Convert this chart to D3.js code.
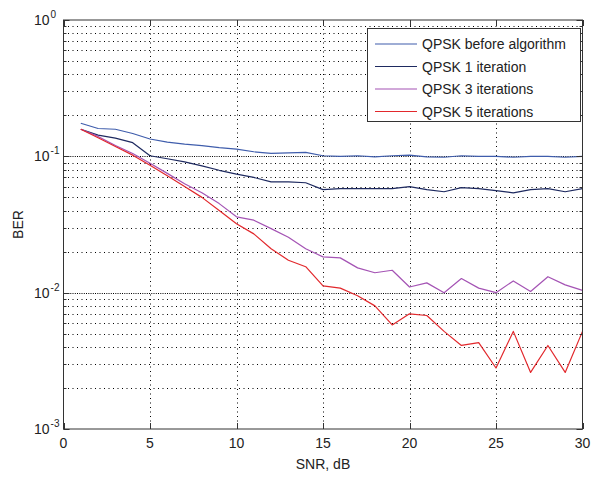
<!DOCTYPE html>
<html><head><meta charset="utf-8">
<script src="https://cdn.jsdelivr.net/npm/d3@7"></script>
<style>body{margin:0;background:#fff}svg{display:block}</style>
</head><body><svg id="c" width="597" height="477"></svg>
<script>
const snr = [1,2,3,4,5,6,7,8,9,10,11,12,13,14,15,16,17,18,19,20,21,22,23,24,25,26,27,28,29,30];
const berBefore = [0.175,0.160,0.158,0.147,0.134,0.127,0.123,0.120,0.116,0.113,0.108,0.105,0.106,0.107,0.101,0.100,0.101,0.099,0.101,0.102,0.099,0.0985,0.101,0.100,0.100,0.0985,0.100,0.100,0.0985,0.100];
const ber1Iter = [0.158,0.143,0.136,0.126,0.101,0.096,0.091,0.085,0.079,0.074,0.070,0.065,0.065,0.064,0.057,0.058,0.058,0.058,0.058,0.060,0.057,0.055,0.059,0.058,0.056,0.054,0.057,0.058,0.055,0.058];
const ber3Iter = [0.158,0.140,0.120,0.105,0.089,0.075,0.063,0.054,0.045,0.036,0.034,0.0295,0.0255,0.021,0.0183,0.0180,0.0152,0.0140,0.0146,0.0110,0.0118,0.0100,0.0127,0.0108,0.0100,0.0122,0.0102,0.0131,0.0114,0.0104];
const ber5Iter = [0.158,0.137,0.118,0.102,0.086,0.072,0.060,0.050,0.040,0.032,0.027,0.021,0.0173,0.0155,0.0112,0.0108,0.0095,0.0080,0.0058,0.0070,0.0068,0.0052,0.0041,0.0043,0.0028,0.0052,0.0026,0.0041,0.0026,0.0052];
const seriesNames = ["QPSK before algorithm","QPSK 1 iteration","QPSK 3 iterations","QPSK 5 iterations"];
const seriesColors = ["#3f5dac","#1e2a60","#a453b4","#e2282c"];
const xTicks = [0,5,10,15,20,25,30];
const yDecades = [1e-3,1e-2,1e-1,1];
const yExponents = ["-3","-2","-1","0"];

const svg = d3.select("#c");
const L = 63.5, R = 582.5, T = 20, B = 429;
const x = d3.scaleLinear().domain([0,30]).range([L,R]);
const y = d3.scaleLog().domain([1e-3,1]).range([B,T]);
const font = "'Liberation Sans', Arial, sans-serif";

// minor y values
const yMinor = [];
yDecades.slice(0,3).forEach(d => { for (let k=2;k<=9;k++) yMinor.push(d*k); });

const grid = svg.append("g").attr("stroke","#000").attr("stroke-width",1).attr("stroke-dasharray","1,3.5").attr("fill","none");
yMinor.forEach(v => {
  const yy = Math.round(y(v)) + 0.5;
  grid.append("line").attr("x1",L).attr("x2",R).attr("y1",yy).attr("y2",yy);
});
yDecades.slice(1,3).forEach(v => {
  const yy = Math.round(y(v)) + 0.5;
  grid.append("line").attr("x1",L).attr("x2",R).attr("y1",yy).attr("y2",yy);
  grid.append("line").attr("x1",L).attr("x2",R).attr("y1",yy).attr("y2",yy).attr("stroke-dashoffset",2.2);
});
xTicks.slice(1,6).forEach(v => {
  const xx = Math.round(x(v)) + 0.5;
  grid.append("line").attr("x1",xx).attr("x2",xx).attr("y1",T).attr("y2",B);
});

// series lines
const line = d3.line().x((d,i) => x(snr[i])).y(d => y(d));
const allSeries = [berBefore, ber1Iter, ber3Iter, ber5Iter];
allSeries.forEach((s,i) => {
  svg.append("path").datum(s).attr("d",line).attr("fill","none")
    .attr("stroke",seriesColors[i]).attr("stroke-width",1.2).attr("stroke-linejoin","round");
});

// axes frame & ticks
const ax = svg.append("g").attr("stroke","#333").attr("stroke-width",1);
ax.append("rect").attr("x",L).attr("y",T).attr("width",R-L).attr("height",B-T).attr("fill","none");
xTicks.forEach(v => {
  const xx = Math.round(x(v)) + 0.5;
  ax.append("line").attr("x1",xx).attr("x2",xx).attr("y1",B).attr("y2",B-6);
  ax.append("line").attr("x1",xx).attr("x2",xx).attr("y1",T).attr("y2",T+6);
});
yDecades.forEach(v => {
  const yy = Math.round(y(v)) + 0.5;
  ax.append("line").attr("x1",L).attr("x2",L+6).attr("y1",yy).attr("y2",yy);
  ax.append("line").attr("x1",R).attr("x2",R-6).attr("y1",yy).attr("y2",yy);
});
yMinor.forEach(v => {
  const yy = Math.round(y(v)) + 0.5;
  ax.append("line").attr("x1",L).attr("x2",L+3).attr("y1",yy).attr("y2",yy);
  ax.append("line").attr("x1",R).attr("x2",R-3).attr("y1",yy).attr("y2",yy);
});

// tick labels
const lab = svg.append("g").attr("font-family",font).attr("fill","#222");
xTicks.forEach(v => {
  lab.append("text").attr("x",x(v)).attr("y",448).attr("text-anchor","middle")
    .attr("font-size",14).text(v);
});
yDecades.forEach((v,i) => {
  const yy = y(v);
  const t = lab.append("text").attr("x",34).attr("y",yy+5).attr("font-size",14);
  t.append("tspan").text("10");
  t.append("tspan").attr("dy",-7).attr("dx",1).attr("font-size",10).text(yExponents[i]);
});

// axis titles
lab.append("text").attr("x",x(15)).attr("y",469).attr("text-anchor","middle").attr("font-size",14).text("SNR, dB");
lab.append("text").attr("transform",`translate(23,${(T+B)/2}) rotate(-90)`).attr("text-anchor","middle").attr("font-size",14).text("BER");

// legend
const lg = svg.append("g");
lg.append("rect").attr("x",367.5).attr("y",28.5).attr("width",213).attr("height",93)
  .attr("fill","#fff").attr("stroke","#333").attr("stroke-width",1);
seriesNames.forEach((n,i) => {
  const yy = 44 + i*22.5;
  lg.append("line").attr("x1",375).attr("x2",417).attr("y1",yy).attr("y2",yy)
    .attr("stroke",seriesColors[i]).attr("stroke-width",1.2);
  lg.append("text").attr("x",422).attr("y",yy+5).attr("font-family",font).attr("font-size",14)
    .attr("fill","#222").text(n);
});
</script></body></html>
